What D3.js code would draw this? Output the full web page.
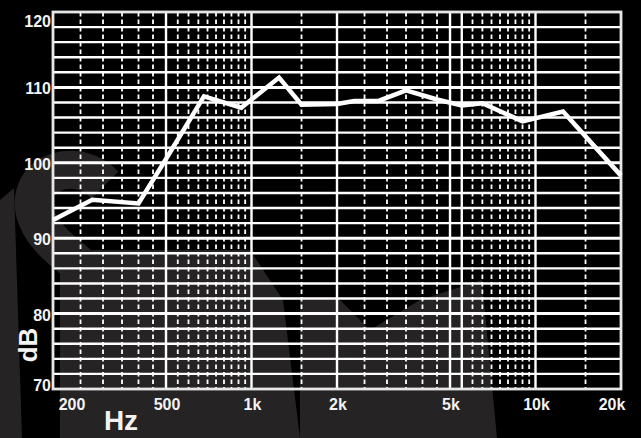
<!DOCTYPE html>
<meta charset="utf-8">
<style>
  body { margin: 0; background: #000; }
  svg { display: block; }
  text { font-family: "Liberation Sans", Arial, sans-serif; font-weight: bold; fill: #f2f2f2; }
</style>
<body>
  <svg width="641" height="438"></svg>
  <script src="https://cdn.jsdelivr.net/npm/d3@7"></script>
  <script>

    // response curve
    const freqs = [200, 275, 400, 500, 680, 920, 1250, 1500, 2000, 2300, 2800, 3500, 4500, 5500, 6500, 9000, 12500, 20000];
    const levels = [92.4, 95.1, 94.6, 100.5, 108.8, 107.3, 111.3, 107.7, 107.8, 108.2, 108.2, 109.6, 108.4, 107.6, 107.9, 105.5, 106.8, 98.3];

    // grid and tick labels
    const solidFreqs = [500, 1000, 2000, 5000, 5500, 10000];
    const dashFreqs = [250, 300, 350, 400, 450, 550, 600, 650, 700, 750, 800, 850, 900, 950,
      1500, 2500, 3000, 3500, 4000, 4500, 6000, 6500, 7000, 7500, 8000, 8500, 9000, 9500, 15000];
    const xTicks = [200, 500, 1000, 2000, 5000, 10000, 20000];
    const xTickText = ["200", "500", "1k", "2k", "5k", "10k", "20k"];
    const yTicks = [70, 80, 90, 100, 110, 120];
    const yGrid = d3.range(72, 120, 2);

    const svg = d3.select("svg");
    const pL = 53, pR = 621, pT = 12, pB = 389;

    // faint logo behind the chart (rough shapes)
    const wm = svg.append("g").attr("fill", "#252323");
    wm.append("path").attr("d", "M0,200 L14,188 L22,438 L0,438 Z");
    wm.append("path").attr("d", "M60,250 L250,250 L283,300 L300,438 L60,438 Z");
    wm.append("path").attr("d", "M300,300 L340,300 L370,330 L420,300 L482,280 L497,438 L300,438 Z");
    wm.append("path")
      .attr("d", "M105,185 C70,150 15,180 40,225 C60,260 105,270 95,300")
      .attr("fill", "none").attr("stroke", "#252323").attr("stroke-width", 38);

    const x = d3.scaleLog().domain([200, 20000]).range([pL, pR]);
    const y = d3.scaleLinear().domain([70, 120]).range([pB, pT]);

    const grid = svg.append("g");

    grid.selectAll(".hline")
      .data(yGrid)
      .enter().append("line")
      .attr("x1", pL).attr("x2", pR)
      .attr("y1", d => y(d)).attr("y2", d => y(d))
      .attr("stroke", "#fff")
      .attr("stroke-width", d => d % 10 == 0 ? 3 : 2.4);

    grid.selectAll(".dline")
      .data(dashFreqs)
      .enter().append("line")
      .attr("x1", d => x(d)).attr("x2", d => x(d))
      .attr("y1", pT).attr("y2", pB)
      .attr("stroke", "#fff")
      .attr("stroke-width", 1.8)
      .attr("stroke-dasharray", "4.5,3");

    grid.selectAll(".sline")
      .data(solidFreqs)
      .enter().append("line")
      .attr("x1", d => x(d)).attr("x2", d => x(d))
      .attr("y1", pT).attr("y2", pB)
      .attr("stroke", "#fff")
      .attr("stroke-width", 2.4);

    // frame
    svg.append("rect")
      .attr("x", pL).attr("y", pT)
      .attr("width", pR - pL).attr("height", pB - pT)
      .attr("fill", "none")
      .attr("stroke", "#e6e6e6")
      .attr("stroke-width", 2.8);

    // curve
    const line = d3.line()
      .x((d, i) => x(freqs[i]))
      .y(d => y(d));

    svg.append("path")
      .datum(levels)
      .attr("d", line)
      .attr("fill", "none")
      .attr("stroke", "#fff")
      .attr("stroke-width", 4.5)
      .attr("stroke-linejoin", "miter");

    // y labels, the end ones pulled inside
    svg.selectAll(".ylab")
      .data(yTicks)
      .enter().append("text")
      .attr("x", 51)
      .attr("y", d => d == 120 ? y(d) + 15 : d == 70 ? y(d) + 2 : y(d) + 7)
      .attr("text-anchor", "end")
      .attr("font-size", 16)
      .text(d => d);

    svg.selectAll(".xlab")
      .data(xTicks)
      .enter().append("text")
      .attr("x", (d, i) => i == 0 ? x(d) + 19 : i == xTicks.length - 1 ? x(d) - 9 : x(d) + 1)
      .attr("y", 410)
      .attr("text-anchor", "middle")
      .attr("font-size", 16)
      .text((d, i) => xTickText[i]);

    svg.append("text")
      .attr("transform", "translate(37,345) rotate(-90)")
      .attr("text-anchor", "middle")
      .attr("font-size", 26)
      .text("dB");

    svg.append("text")
      .attr("x", 121).attr("y", 430)
      .attr("text-anchor", "middle")
      .attr("font-size", 28)
      .text("Hz");

  </script>
</body>
